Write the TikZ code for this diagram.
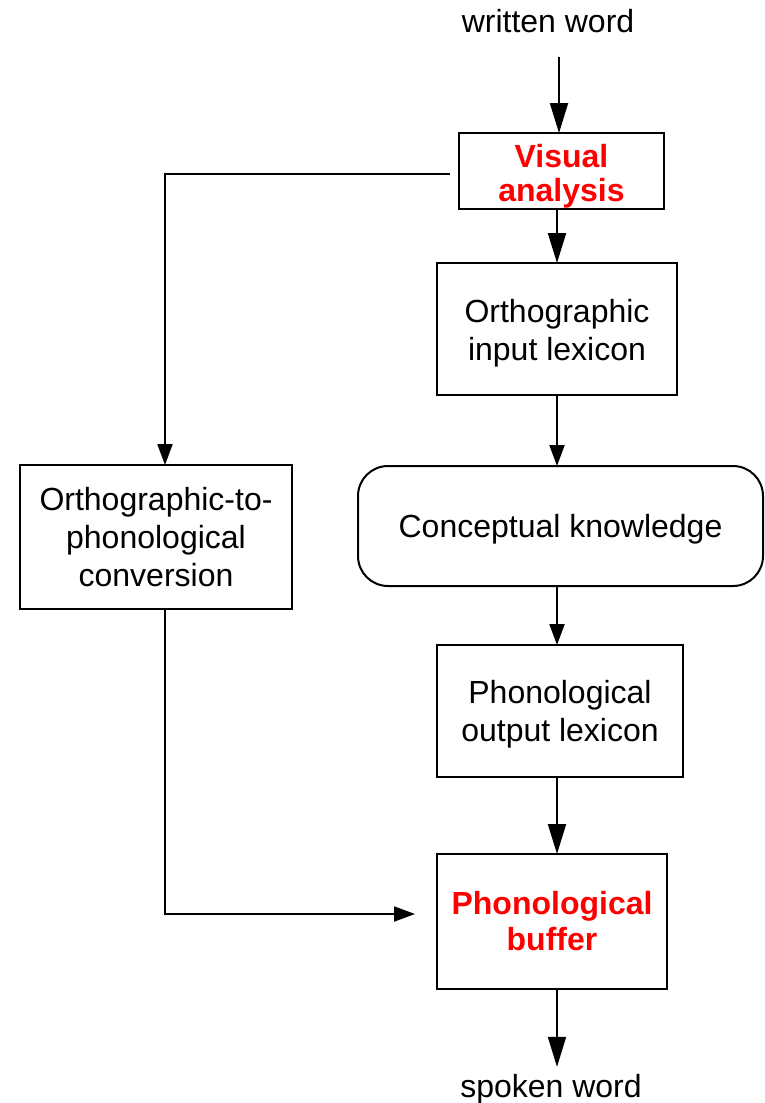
\documentclass[tikz,border=0pt]{standalone}
\usepackage{fontspec}
\setmainfont{Liberation Sans}
\usetikzlibrary{arrows.meta}

% invisible strut that makes the first text line taller, lowering the text block
\newcommand\tallline[1]{\rule{0pt}{#1}}

\begin{document}
\begin{tikzpicture}[x=1pt,y=-1pt,
  every node/.style={inner sep=0pt, outer sep=0pt},
  proc/.style={draw=black, line width=2pt, fill=white, align=center,
    font=\fontsize{32}{38}\selectfont},
  keybox/.style={proc, text=red, font=\fontsize{32}{36}\selectfont\bfseries},
  io/.style={font=\fontsize{32}{38}\selectfont, anchor=base},
  flow/.style={line width=2pt, draw=black},
  bigtip/.style={flow, -{Triangle[length=30pt,width=18pt]}},
  smalltip/.style={flow, -{Triangle[length=21pt,width=15pt]}}
]
\useasboundingbox (0,0) rectangle (764,1103);

% processing stages
\node[keybox, font=\fontsize{32}{34}\selectfont\bfseries, minimum width=205pt, minimum height=76pt] (vis) at (561.5,171) {\tallline{33pt}Visual\\analysis};
\node[proc, minimum width=240pt, minimum height=132pt] (oil) at (557,329) {\tallline{31pt}Orthographic\\input lexicon};
\node[proc, rounded corners=30pt, minimum width=405pt, minimum height=120pt] (ck) at (560.5,526) {\tallline{29pt}Conceptual knowledge};
\node[proc, minimum width=246pt, minimum height=132pt] (pol) at (560,711) {\tallline{30pt}Phonological\\output lexicon};
\node[keybox, minimum width=230pt, minimum height=135pt] (buf) at (552,921.5) {Phonological\\buffer};
\node[proc, minimum width=272pt, minimum height=144pt] (otp) at (156,537) {Orthographic-to-\\phonological\\conversion};

% input and output words
\node[io] (ww) at (548,32) {written word};
\node[io] (sw) at (551,1097) {spoken word};

% lexical route
\draw[bigtip, shorten <=25pt] (ww.south -| 559,0) -- (vis.north -| 559,0);
\draw[bigtip] (vis.south -| oil.north) -- (oil.north);
\draw[smalltip] (oil.south) -- (oil.south |- ck.north);
\draw[smalltip] (ck.south -| oil.south) -- (pol.north -| oil.south);
\draw[bigtip] (pol.south -| oil.south) -- (buf.north -| oil.south);
\draw[bigtip, shorten >=7pt] (buf.south -| oil.south) -- (sw.north -| oil.south);

% sublexical route
\draw[smalltip, shorten <=9pt] ([yshift=-3pt]vis.west) -| ([xshift=9pt]otp.north);
\draw[smalltip, shorten >=22pt] ([xshift=9pt]otp.south) |- ([yshift=7.5pt]buf.west);
\end{tikzpicture}
\end{document}
